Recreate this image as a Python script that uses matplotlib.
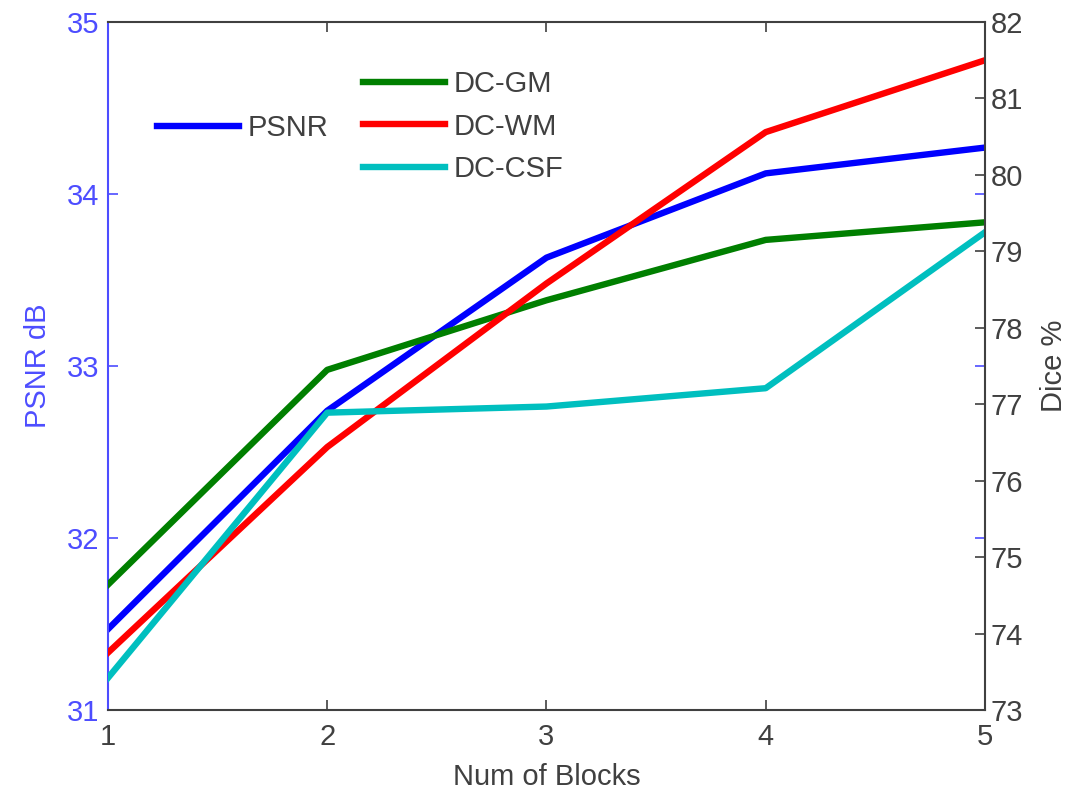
import numpy as np
from matplotlib import pyplot as plt

plt.rcParams['font.family'] = ['Liberation Sans', 'DejaVu Sans']

blocks = [1, 2, 3, 4, 5]
psnr = [31.47, 32.74, 33.63, 34.12, 34.27]
dice_gm = [74.64, 77.45, 78.36, 79.15, 79.38]
dice_wm = [73.75, 76.44, 78.58, 80.56, 81.50]
dice_csf = [73.42, 76.89, 76.97, 77.21, 79.25]

gray = '#404040'
lblue = '#4d4dff'
fs = 21

fig = plt.figure(figsize=(10.69, 7.92), dpi=100)
ax = fig.add_axes([0.101, 0.1035, 0.8204, 0.8687])
ax2 = ax.twinx()

l0, = ax.plot(blocks, psnr, color='#0000ff', lw=4.6)
ax.set_xlim(1, 5)
ax.set_ylim(31, 35)
ax.set_xticks(blocks)
ax.set_yticks([31, 32, 33, 34, 35])
ax.tick_params(axis='y', direction='in', length=7, width=1.2, colors=lblue,
               labelsize=fs, left=True, right=True, labelright=False, pad=6)
ax.tick_params(axis='x', direction='in', length=7, width=1.2, colors=gray,
               labelsize=fs, top=True, pad=9)
for s in ['top', 'bottom']:
    ax.spines[s].set_color(gray)
    ax.spines[s].set_linewidth(1.5)
ax.spines['left'].set_color(lblue)
ax.spines['left'].set_linewidth(1.5)
ax.spines['right'].set_visible(False)
ax.set_xlabel('Num of Blocks', fontsize=fs, color=gray, labelpad=9)
ax.set_ylabel('PSNR dB', fontsize=fs, color=lblue, labelpad=11)

l1, = ax2.plot(blocks, dice_gm, color='#007f00', lw=4.6)
l2, = ax2.plot(blocks, dice_wm, color='#ff0000', lw=4.6)
l3, = ax2.plot(blocks, dice_csf, color='#00bfbf', lw=4.6)
ax2.set_ylim(73, 82)
ax2.set_yticks(np.arange(73, 83))
ax2.tick_params(axis='y', direction='in', length=7, width=1.2, colors=gray,
                labelsize=fs, pad=4)
for s in ['top', 'bottom', 'left']:
    ax2.spines[s].set_visible(False)
ax2.spines['right'].set_color(gray)
ax2.spines['right'].set_linewidth(1.5)
ax2.set_ylabel('Dice %', fontsize=fs, color=gray, labelpad=12)

leg1 = ax.legend([l0], ['PSNR'], loc='center left', bbox_to_anchor=(0.056, 0.846),
                 frameon=False, fontsize=fs, handlelength=2.8, handletextpad=0.3,
                 borderpad=0, borderaxespad=0)
for t in leg1.get_texts():
    t.set_color(gray)
leg2 = ax2.legend([l1, l2, l3], ['DC-GM', 'DC-WM', 'DC-CSF'], loc='center left',
                  bbox_to_anchor=(0.291, 0.848), frameon=False, fontsize=fs,
                  handlelength=2.8, handletextpad=0.3, labelspacing=0.5,
                  borderpad=0, borderaxespad=0)
for t in leg2.get_texts():
    t.set_color(gray)

fig.savefig('out.png', dpi=100)
